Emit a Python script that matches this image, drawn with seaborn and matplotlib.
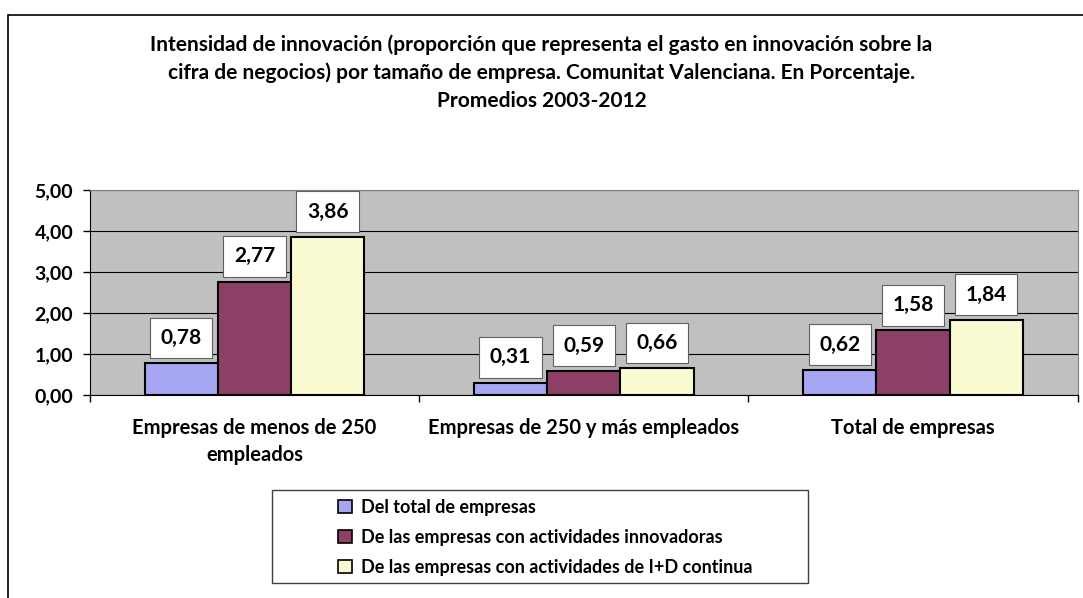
import seaborn as sns
import matplotlib.pyplot as plt
import pandas as pd
from matplotlib.patches import Rectangle
from matplotlib.ticker import FuncFormatter, FixedLocator

categorias = ["Empresas de menos de 250\nempleados", "Empresas de 250 y más empleados", "Total de empresas"]
series = ["Del total de empresas",
          "De las empresas con actividades innovadoras",
          "De las empresas con actividades de I+D continua"]
del_total = [0.78, 0.31, 0.62]
innovadoras = [2.77, 0.59, 1.58]
id_continua = [3.86, 0.66, 1.84]
colores = ["#9999FF", "#993366", "#FFFFCC"]

df = pd.DataFrame({
    "categoria": categorias * 3,
    "serie": [series[0]] * 3 + [series[1]] * 3 + [series[2]] * 3,
    "valor": del_total + innovadoras + id_continua,
})

plt.rcParams['font.family'] = ['Lato', 'DejaVu Sans']
plt.rcParams['font.weight'] = 'bold'

fig = plt.figure(figsize=(10.83, 5.98), dpi=100)
ax = fig.add_axes([0.083, 0.339, 0.912, 0.343])

sns.barplot(data=df, x="categoria", y="valor", hue="serie", palette=colores,
            width=0.667, edgecolor="black", linewidth=1.5, ax=ax, legend=True)
ax.set_facecolor("#C0C0C0")
ax.set_ylim(0, 5)
ax.set_xlim(-0.5, 2.5)
ax.set_yticks([0, 1, 2, 3, 4, 5])
ax.yaxis.set_major_formatter(FuncFormatter(lambda v, p: f"{v:.2f}".replace(".", ",")))
ax.grid(axis="y", color="black", linewidth=0.8)
ax.set_axisbelow(True)
ax.set_xlabel("")
ax.set_ylabel("")
ax.tick_params(axis="y", labelsize=14, length=5, width=1, direction="out", pad=7)
ax.tick_params(axis="x", which="major", length=0, labelsize=14.5, pad=16)
ax.xaxis.set_minor_locator(FixedLocator([-0.5, 0.5, 1.5, 2.5]))
ax.tick_params(axis="x", which="minor", length=5, width=1, direction="out")
for lab in ax.get_xticklabels() + ax.get_yticklabels():
    lab.set_fontweight("bold")
for lab in ax.get_xticklabels():
    lab.set_linespacing(1.45)
ax.spines["left"].set_color("black")
ax.spines["bottom"].set_color("black")
ax.spines["top"].set_color("#808080")
ax.spines["right"].set_color("#808080")

for cont in ax.containers:
    for bar in cont:
        h = bar.get_height()
        ax.annotate(f"{h:.2f}".replace(".", ","),
                    xy=(bar.get_x() + bar.get_width() / 2, h),
                    xytext=(0, 11), textcoords="offset points",
                    ha="center", va="bottom", fontsize=15, fontweight="bold",
                    bbox=dict(boxstyle="square,pad=0.5", fc="white", ec="#606060", lw=0.8))

handles, labels = ax.get_legend_handles_labels()
ax.get_legend().remove()
leg = fig.legend(handles, labels, loc="upper left",
                 bbox_to_anchor=(338 / 1083, 1 - 499 / 598),
                 frameon=False, fontsize=13,
                 handlelength=0.75, handleheight=0.75, borderpad=0, labelspacing=0.72,
                 borderaxespad=0, handletextpad=0.5)
for t in leg.get_texts():
    t.set_fontweight("bold")
for p in leg.get_patches():
    p.set_linewidth(1.2)
fig.patches.append(Rectangle((272 / 1083, 1 - 583 / 598), 536 / 1083, 93 / 598,
                             transform=fig.transFigure, fill=False, ec="#404040", lw=1))

fig.text(0.5, 1 - 34 / 598,
         "Intensidad de innovación (proporción que representa el gasto en innovación sobre la\n"
         "cifra de negocios) por tamaño de empresa. Comunitat Valenciana. En Porcentaje.\n"
         "Promedios 2003-2012",
         ha="center", va="top", fontsize=15, fontweight="bold", linespacing=1.5)

fig.patches.append(Rectangle((8 / 1083, -0.1), 1.2, 1 - 15 / 598 + 0.1,
                             transform=fig.transFigure, fill=False, ec="black", lw=1.2))

plt.savefig("out.png", dpi=100)
